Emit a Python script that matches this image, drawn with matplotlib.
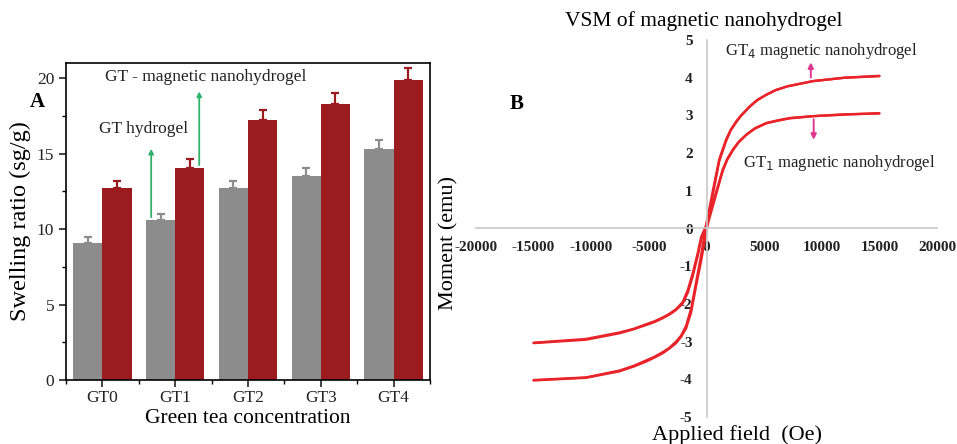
import matplotlib
matplotlib.use("Agg")
import matplotlib.pyplot as plt
from matplotlib.ticker import MultipleLocator

plt.rcParams['font.family'] = ['Liberation Serif', 'DejaVu Serif']
plt.rcParams['axes.unicode_minus'] = False

# ---- panel A data ----
groups = ['GT0', 'GT1', 'GT2', 'GT3', 'GT4']
hydrogel = [9.1, 10.6, 12.7, 13.5, 15.3]
hydrogel_err = [0.4, 0.4, 0.47, 0.53, 0.6]
nano = [12.7, 14.05, 17.2, 18.3, 19.9]
nano_err = [0.5, 0.57, 0.68, 0.73, 0.8]

# ---- panel B data (read from the loops) ----
gt4_down_h = [15000, 12000, 9250, 7000, 6000, 5200, 4400, 3750, 3000, 2600, 2100, 1700, 1100, 550, 200, 0,
              -170, -460, -900, -1330, -1770, -2200, -2640, -3200, -3800, -4500, -5240, -6300, -7570, -10460, -15000]
gt4_down_m = [4.04, 4.0, 3.91, 3.77, 3.67, 3.55, 3.41, 3.24, 3.0, 2.85, 2.62, 2.36, 1.83, 1.0, 0.45, 0.15,
              -0.15, -0.7, -1.42, -2.12, -2.58, -2.84, -3.0, -3.16, -3.28, -3.4, -3.5, -3.64, -3.77, -3.95, -4.02]
gt4_up_h = [-15000, -10460, -7570, -6300, -5240, -4500, -3800, -3200, -2640, -2200, -1770, -1330, -900, -460, -170, 0,
            200, 550, 1100, 1700, 2100, 2600, 3000, 3750, 4400, 5200, 6000, 7000, 9250, 12000, 15000]
gt4_up_m = [-4.03, -3.96, -3.79, -3.66, -3.53, -3.42, -3.31, -3.18, -3.04, -2.87, -2.65, -2.22, -1.52, -0.85, -0.35, -0.05,
            0.3, 0.9, 1.78, 2.32, 2.6, 2.83, 2.99, 3.23, 3.4, 3.55, 3.67, 3.77, 3.91, 4.0, 4.05]

gt1_down_h = [15000, 12000, 9250, 7200, 6200, 5200, 4200, 3450, 2800, 2300, 1800, 1400, 850, 260, 0,
              -170, -460, -760, -1190, -1620, -2060, -2640, -3200, -3800, -4500, -5240, -6300, -7570, -10460, -15000]
gt1_down_m = [3.05, 3.03, 2.98, 2.93, 2.87, 2.8, 2.66, 2.49, 2.3, 2.1, 1.85, 1.56, 0.98, 0.38, 0.1,
              -0.02, -0.22, -0.65, -1.18, -1.63, -1.95, -2.14, -2.26, -2.36, -2.46, -2.54, -2.66, -2.76, -2.93, -3.03]
gt1_up_h = [-15000, -10460, -7570, -6300, -5240, -4500, -3800, -3200, -2640, -2060, -1620, -1190, -760, -460, -170, 0,
            260, 850, 1400, 1800, 2300, 2800, 3450, 4200, 5200, 6200, 7200, 9250, 12000, 15000]
gt1_up_m = [-3.04, -2.95, -2.78, -2.67, -2.56, -2.48, -2.38, -2.28, -2.16, -1.99, -1.7, -1.26, -0.73, -0.3, -0.06, 0.0,
            0.28, 0.92, 1.52, 1.82, 2.08, 2.29, 2.48, 2.65, 2.79, 2.86, 2.92, 2.98, 3.02, 3.06]

fig = plt.figure(figsize=(9.57, 4.44), dpi=100)

# ================= panel A =================
axA = fig.add_axes([66 / 957, 1 - 380 / 444, 364 / 957, 317 / 444])
x = list(range(len(groups)))
w = 0.4
grey = '#8c8c8c'
red = '#9b1b1f'
axA.bar([i - w / 2 for i in x], hydrogel, w, color=grey,
        yerr=[[0] * 5, hydrogel_err], error_kw=dict(ecolor=grey, elinewidth=1.6, capsize=2.6, capthick=1.6))
axA.bar([i + w / 2 for i in x], nano, w, color=red,
        yerr=[[0] * 5, nano_err], error_kw=dict(ecolor=red, elinewidth=1.6, capsize=2.6, capthick=1.6))
axA.set_xlim(-0.5, 4.5)
axA.set_ylim(0, 21)
axA.set_xticks(x)
axA.set_xticklabels(groups)
axA.xaxis.set_minor_locator(MultipleLocator(0.5))
axA.yaxis.set_major_locator(MultipleLocator(5))
axA.yaxis.set_minor_locator(MultipleLocator(2.5))
axA.tick_params(which='major', direction='out', length=5, width=1.2, labelsize=12.5, colors='#222222')
axA.tick_params(axis='x', which='major', pad=2)
axA.tick_params(which='minor', direction='out', length=3, width=1)
for s in axA.spines.values():
    s.set_linewidth(1.2)
axA.set_ylabel('Swelling ratio (sg/g)', fontsize=17.5, labelpad=4)
axA.set_xlabel('Green tea concentration', fontsize=15.5, labelpad=2)

green = '#2fb36a'
axA.annotate('', xy=(0.67, 15.5), xytext=(0.67, hydrogel[1]),
             arrowprops=dict(arrowstyle='-|>', color=green, lw=1.3, mutation_scale=7))
axA.annotate('', xy=(1.33, 19.3), xytext=(1.33, nano[1]),
             arrowprops=dict(arrowstyle='-|>', color=green, lw=1.3, mutation_scale=7))
axA.text(0.56, 16.6, 'GT hydrogel', fontsize=12.5, ha='center', va='center', color='#222222')
axA.text(1.42, 20.05, 'GT - magnetic nanohydrogel', fontsize=12.5, ha='center', va='center', color='#222222')
fig.text(37 / 957, 1 - 102 / 444, 'A', fontsize=15, fontweight='bold', ha='center', va='center')

# ================= panel B =================
axB = fig.add_axes([476 / 957, 1 - 417 / 444, 461 / 957, 377 / 444])
lc = '#e8242a'
for hh, mm in [(gt4_down_h, gt4_down_m), (gt4_up_h, gt4_up_m),
               (gt1_down_h, gt1_down_m), (gt1_up_h, gt1_up_m)]:
    axB.plot(hh, mm, color=lc, lw=1.7, solid_capstyle='round', solid_joinstyle='round')
axB.set_xlim(-20000, 20000)
axB.set_ylim(-5, 5)
axB.spines['top'].set_visible(False)
axB.spines['right'].set_visible(False)
axB.spines['left'].set_position(('data', 0))
axB.spines['bottom'].set_position(('data', 0))
axB.spines['left'].set_color('#c8c8c8')
axB.spines['bottom'].set_color('#c8c8c8')
axB.spines['left'].set_linewidth(1.2)
axB.spines['bottom'].set_linewidth(1.2)
axB.set_xticks(range(-20000, 20001, 5000))
axB.set_yticks(range(-5, 6))
axB.tick_params(axis='x', length=0, pad=9)
axB.tick_params(axis='y', length=0, pad=10)
for lab in axB.get_xticklabels() + axB.get_yticklabels():
    lab.set_fontweight('bold')
    lab.set_fontsize(11)
    lab.set_color('#222222')

fig.text(704 / 957, 1 - 21 / 444, 'VSM of magnetic nanohydrogel', fontsize=15.5, ha='center', va='center')
fig.text(737 / 957, 1 - 435 / 444, 'Applied field  (Oe)', fontsize=16, ha='center', va='center')
fig.text(449 / 957, 1 - 243 / 444, 'Moment (emu)', fontsize=16, ha='center', va='center', rotation=90)
fig.text(517 / 957, 1 - 104 / 444, 'B', fontsize=15, fontweight='bold', ha='center', va='center')

pink = '#e0368e'
axB.annotate('', xy=(9050, 4.48), xytext=(9050, 3.93),
             arrowprops=dict(arrowstyle='-|>', color=pink, lw=1.4, mutation_scale=8))
axB.annotate('', xy=(9300, 2.28), xytext=(9300, 2.97),
             arrowprops=dict(arrowstyle='-|>', color=pink, lw=1.4, mutation_scale=8))
axB.text(10000, 4.7, r'GT$_4$ magnetic nanohydrogel', fontsize=12, ha='center', va='center', color='#222222')
axB.text(11500, 1.75, r'GT$_1$ magnetic nanohydrogel', fontsize=12, ha='center', va='center', color='#222222')

fig.savefig('out.png', dpi=100)
